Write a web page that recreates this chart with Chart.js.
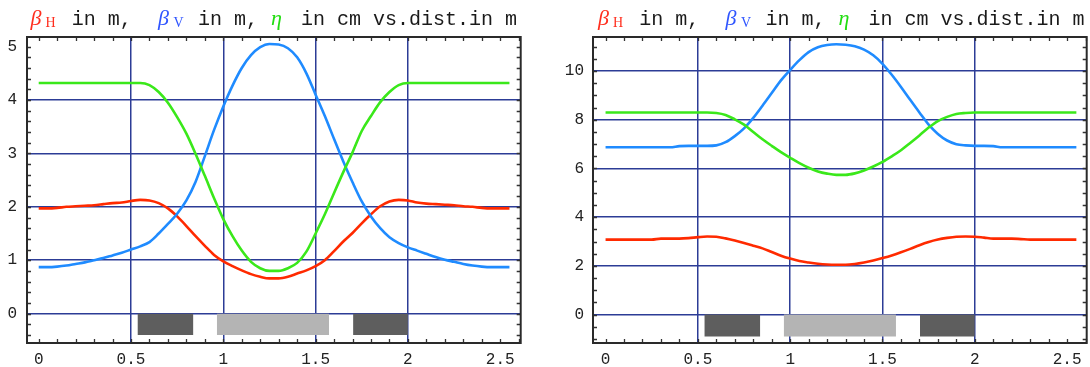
<!DOCTYPE html>
<html><head><meta charset="utf-8">
<script src="https://cdn.jsdelivr.net/npm/chart.js@4.4.0/dist/chart.umd.min.js"></script>
<style>
html,body{margin:0;padding:0;background:#fff;width:1090px;height:367px;overflow:hidden;}
.panel{position:absolute;top:0;width:545px;height:367px;}
canvas{position:absolute;left:0;top:0;}
.t{position:absolute;white-space:pre;color:#1a1a1a;}
.mono{font-family:'Liberation Mono',monospace;font-size:20px;line-height:20px;top:10px;}
.gk{font-family:'Liberation Serif',serif;font-style:italic;font-size:22px;line-height:22px;top:6.5px;}
.sub{font-family:'Liberation Serif',serif;font-size:14px;line-height:14px;top:16px;}
.r{color:#ff2e1e}.b{color:#2f55ff}.g{color:#22dd11}
</style></head>
<body>
<div class="panel" id="p1" style="left:0"><canvas id="c1" width="545" height="367"></canvas></div>
<div class="panel" id="p2" style="left:545px"><canvas id="c2" width="545" height="367"></canvas></div>
<script>
// ---- data ----
const positions = [0,0.05,0.1,0.15,0.2,0.25,0.3,0.35,0.4,0.45,0.5,0.55,0.6,0.65,0.7,0.75,0.8,0.85,0.9,0.95,1.0,1.05,1.1,1.15,1.2,1.25,1.3,1.35,1.4,1.45,1.5,1.55,1.6,1.65,1.7,1.75,1.8,1.85,1.9,1.95,2.0,2.05,2.1,2.15,2.2,2.25,2.3,2.35,2.4,2.45,2.5,2.55];

// left panel
const betaH_1 = [1.97,1.97,1.98,2.0,2.01,2.02,2.03,2.05,2.07,2.08,2.11,2.13,2.12,2.07,1.97,1.82,1.64,1.45,1.27,1.1,0.98,0.89,0.81,0.74,0.69,0.66,0.66,0.69,0.75,0.81,0.89,1.0,1.17,1.35,1.51,1.69,1.86,2.01,2.1,2.13,2.12,2.08,2.06,2.05,2.04,2.03,2.01,2.0,1.98,1.97,1.97,1.97];
const betaV_1 = [0.87,0.87,0.88,0.9,0.93,0.96,1.0,1.04,1.09,1.14,1.2,1.26,1.34,1.5,1.68,1.87,2.12,2.47,2.95,3.44,3.88,4.27,4.6,4.84,4.99,5.05,5.04,4.97,4.8,4.5,4.1,3.7,3.27,2.85,2.46,2.1,1.82,1.6,1.43,1.32,1.24,1.18,1.12,1.06,1.01,0.97,0.93,0.9,0.88,0.87,0.87,0.87];
const eta_1   = [4.32,4.32,4.32,4.32,4.32,4.32,4.32,4.32,4.32,4.32,4.32,4.32,4.28,4.15,3.95,3.68,3.37,2.99,2.58,2.16,1.77,1.45,1.18,0.97,0.85,0.8,0.8,0.85,0.95,1.16,1.5,1.86,2.26,2.65,3.02,3.42,3.7,3.96,4.15,4.28,4.32,4.32,4.32,4.32,4.32,4.32,4.32,4.32,4.32,4.32,4.32,4.32];

// right panel
const betaH_2 = [3.08,3.08,3.08,3.08,3.08,3.08,3.12,3.12,3.12,3.14,3.18,3.21,3.2,3.13,3.04,2.94,2.83,2.72,2.57,2.42,2.3,2.2,2.14,2.09,2.06,2.05,2.05,2.08,2.14,2.22,2.32,2.43,2.56,2.7,2.85,2.98,3.08,3.15,3.2,3.21,3.2,3.16,3.12,3.12,3.12,3.1,3.08,3.08,3.08,3.08,3.08,3.08];
const betaV_2 = [6.87,6.87,6.87,6.87,6.87,6.87,6.87,6.87,6.92,6.93,6.93,6.93,6.95,7.08,7.33,7.65,8.08,8.58,9.1,9.62,10.05,10.45,10.78,10.98,11.07,11.1,11.08,11.02,10.88,10.65,10.3,9.85,9.35,8.82,8.3,7.8,7.42,7.15,7.0,6.95,6.93,6.93,6.92,6.87,6.87,6.87,6.87,6.87,6.87,6.87,6.87,6.87];
const eta_2   = [8.3,8.3,8.3,8.3,8.3,8.3,8.3,8.3,8.3,8.3,8.3,8.3,8.28,8.2,8.02,7.8,7.5,7.2,6.93,6.67,6.44,6.22,6.03,5.88,5.79,5.74,5.74,5.8,5.92,6.08,6.27,6.5,6.75,7.05,7.36,7.68,7.95,8.12,8.24,8.28,8.3,8.3,8.3,8.3,8.3,8.3,8.3,8.3,8.3,8.3,8.3,8.3];

// lattice elements (magnets) drawn below the axis
const magnetStart = [0.535,0.965,1.703];
const magnetEnd   = [0.838,1.573,2.0];
const magnetKind  = ['dark','light','dark'];
const magnetDepth_1 = -0.4;
const magnetDepth_2 = -0.9;

// ticks
const xTicks   = [0,0.5,1,1.5,2,2.5];
const xTickLabels = ['0','0.5','1','1.5','2','2.5'];
const yTicks_1 = [0,1,2,3,4,5];
const yTickLabels_1 = ['0','1','2','3','4','5'];
const yTicks_2 = [0,2,4,6,8,10];
const yTickLabels_2 = ['0','2','4','6','8','10'];
const xGridValues   = [0.5,1,1.5,2];
const yGridValues_1 = [0,1,2,3,4];
const yGridValues_2 = [0,2,4,6,8,10];

// ---- titles (real text) ----
function addTitle(panelId, dx){
  const p = document.getElementById(panelId);
  const parts = [
    ['gk r', 'β', 30.6], ['sub r', 'H', 45.5], ['mono', 'in m,', 71.7],
    ['gk b', 'β', 158], ['sub b', 'V', 173.5], ['mono', 'in m,', 198],
    ['gk g', 'η', 271], ['mono', 'in cm vs.dist.in m', 301]
  ];
  for (const [cls, txt, x] of parts){
    const s = document.createElement('span');
    s.className = 't ' + cls; s.textContent = txt; s.style.left = (x+dx)+'px';
    p.appendChild(s);
  }
}
addTitle('p1', 0);
addTitle('p2', 22.5);

// ---- plugin: frame + inner minor ticks ----
const framePlugin = {
  id: 'frame',
  afterDatasetsDraw(chart, args, o){
    const {ctx, chartArea:a, scales} = chart;
    const x = scales.x, y = scales.y;
    ctx.save();
    ctx.strokeStyle = '#333'; ctx.lineWidth = 1.3;
    ctx.beginPath();
    for (let v = Math.ceil(x.min/o.xStep-1e-9)*o.xStep; v <= x.max+1e-9; v += o.xStep){
      const px = Math.round(x.getPixelForValue(v))+0.5;
      const L = 4;
      ctx.moveTo(px, a.bottom); ctx.lineTo(px, a.bottom-L);
      ctx.moveTo(px, a.top); ctx.lineTo(px, a.top+L);
    }
    for (let v = Math.ceil(y.min/o.yStep-1e-9)*o.yStep; v <= y.max+1e-9; v += o.yStep){
      const py = Math.round(y.getPixelForValue(v))+0.5;
      const L = 4;
      ctx.moveTo(a.left, py); ctx.lineTo(a.left+L, py);
      ctx.moveTo(a.right, py); ctx.lineTo(a.right-L, py);
    }
    ctx.stroke();
    ctx.lineWidth = 2; ctx.strokeStyle = '#2a2a2a';
    ctx.strokeRect(a.left, a.top, a.right-a.left, a.bottom-a.top);
    ctx.restore();
  }
};

function lineDS(label, ys, color){
  return {type:'scatter', label, data: positions.map((p,i)=>({x:p, y:ys[i]})),
    showLine:true, borderColor:color, backgroundColor:color, borderWidth:2.6,
    pointRadius:0, cubicInterpolationMode:'monotone', fill:false};
}
function magnetDS(i, depth){
  const col = magnetKind[i]==='dark' ? '#5e5e5e' : '#b4b4b4';
  return {type:'scatter', label:'m'+i,
    data:[{x:magnetStart[i], y:depth},{x:magnetEnd[i], y:depth}],
    showLine:true, borderWidth:0, borderColor:col, backgroundColor:col,
    pointRadius:0, fill:{value:0}};
}

function makeChart(id, s){
  const gridCol = '#2c3c96';
  new Chart(document.getElementById(id), {
    data: {datasets: [
      lineDS('eta', s.eta, '#3ae81a'),
      lineDS('betaV', s.bv, '#1f8bff'),
      lineDS('betaH', s.bh, '#ff2a00'),
      magnetDS(0, s.depth), magnetDS(1, s.depth), magnetDS(2, s.depth)
    ]},
    options: {
      responsive:false, animation:false, devicePixelRatio:1,
      layout:{padding:{top:37, right:s.padRight, left:0, bottom:0}},
      plugins:{legend:{display:false}, tooltip:{enabled:false}, title:{display:false},
        frame:{xStep:0.1, yStep:s.yStep}},
      scales:{
        x:{type:'linear', min:s.xmin, max:s.xmax,
          afterBuildTicks:(sc)=>{ sc.ticks = xTicks.map(v=>({value:v})); },
          afterFit:(sc)=>{ sc.height = 24; },
          ticks:{autoSkip:false, maxRotation:0, padding:7, color:'#222',
            font:{family:'Liberation Mono', size:16},
            callback:(v)=>xTickLabels[xTicks.indexOf(v)]},
          grid:{drawTicks:false, lineWidth:1.5,
            color:(c)=> xGridValues.includes(c.tick && c.tick.value) ? gridCol : 'rgba(0,0,0,0)'},
          border:{display:false}
        },
        y:{type:'linear', min:s.ymin, max:s.ymax,
          afterBuildTicks:(sc)=>{ sc.ticks = s.yTicks.map(v=>({value:v})); },
          afterFit:(sc)=>{ sc.width = s.yAxisW; },
          ticks:{autoSkip:false, padding:s.yPad, color:'#222',
            font:{family:'Liberation Mono', size:16},
            callback:(v)=>s.yLabels[s.yTicks.indexOf(v)]},
          grid:{drawTicks:false, lineWidth:1.5,
            color:(c)=> s.yGrid.includes(c.tick && c.tick.value) ? gridCol : 'rgba(0,0,0,0)'},
          border:{display:false}
        }
      }
    },
    plugins:[framePlugin]
  });
}

makeChart('c1', {bh:betaH_1, bv:betaV_1, eta:eta_1, depth:magnetDepth_1,
  xmin:-0.0634, xmax:2.611, ymin:-0.55, ymax:5.18, yStep:0.2,
  yTicks:yTicks_1, yLabels:yTickLabels_1, yGrid:yGridValues_1,
  yAxisW:27, yPad:10, padRight:24.3});
makeChart('c2', {bh:betaH_2, bv:betaV_2, eta:eta_2, depth:magnetDepth_2,
  xmin:-0.068, xmax:2.606, ymin:-1.166, ymax:11.4, yStep:0.5,
  yTicks:yTicks_2, yLabels:yTickLabels_2, yGrid:yGridValues_2,
  yAxisW:48, yPad:9, padRight:3.3});
</script>
</body></html>
